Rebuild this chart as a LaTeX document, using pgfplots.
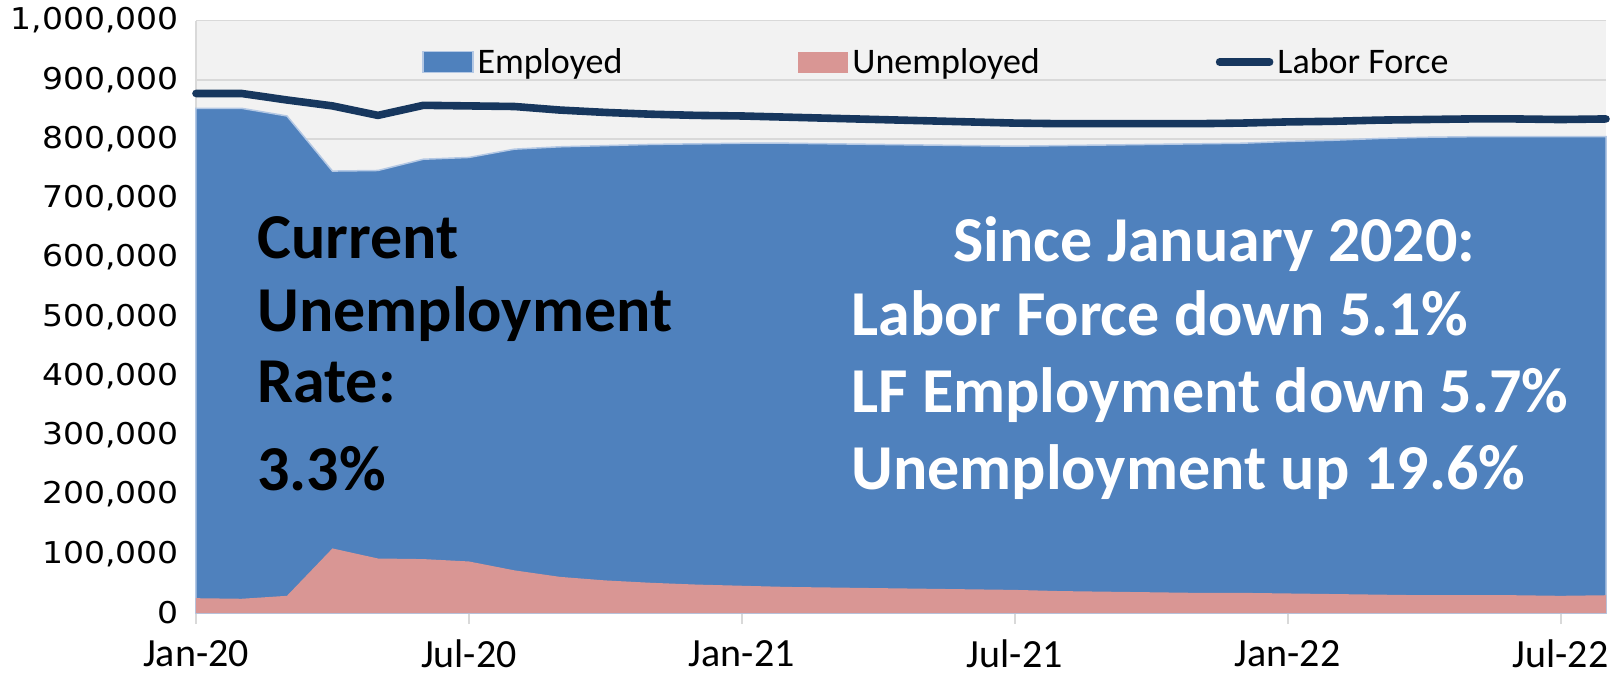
\documentclass[border=0pt]{standalone}
\usepackage{pgfplots}
\pgfplotsset{compat=1.18}
\usepackage{pgfplotstable}
\usepackage{graphicx}
\usepackage{fontspec}
\setmainfont{Carlito}
\newfontfamily\yfont{DejaVu Sans}

\definecolor{empblue}{HTML}{4F81BD}
\definecolor{empedge}{HTML}{B4C8E4}
\definecolor{unpink}{HTML}{D99694}
\definecolor{lfnavy}{HTML}{17375E}
\definecolor{plotbg}{HTML}{F2F2F2}
\definecolor{gridgray}{HTML}{D9D9D9}

\pgfplotsset{
  patchleg/.style={legend image code/.code={\fill[##1] (0pt,-5.25pt) rectangle (25pt,5.25pt);}},
  lineleg/.style={legend image code/.code={\draw[##1] (0pt,0pt) -- (25pt,0pt);}},
}

% month index (0 = Jan-20), employed, unemployed, labor force
\pgfplotstableread{
m  E      U      LF
0  852000 25000  877000
1  852000 24000  877000
2  839000 29000  866000
3  746000 109000 856000
4  747000 92000  840000
5  766000 91000  857000
6  769000 87000  856000
7  783000 72000  855000
8  787000 61000  849000
9  789000 55000  845000
10 791000 51000  842000
11 792000 48000  840000
12 793000 46000  839000
13 793000 44000  837000
14 792000 43000  835000
15 791000 42000  833000
16 790000 41000  831000
17 789000 40000  829000
18 788000 39000  827000
19 789000 37000  826000
20 790000 36000  826000
21 791000 35000  826000
22 792000 34000  826000
23 793000 34000  827000
24 796000 33000  829000
25 798000 32000  830000
26 801000 31000  832000
27 803000 30000  833000
28 804000 30000  834000
29 804000 30000  834000
30 804000 29000  833000
31 804000 30000  834000
}\labor

\begin{document}
\begin{tikzpicture}
\useasboundingbox (-98pt,-31.5pt) rectangle (708pt,306.5pt);
\begin{axis}[
  scale only axis, width=705pt, height=296.2pt,
  xmin=0, xmax=31, ymin=0, ymax=1000000,
  clip=false,
  axis lines=left,
  axis line style={-, draw=gridgray, line width=1pt},
  axis background/.style={fill=plotbg},
  ytick distance=100000,
  ymajorgrids, grid style={draw=gridgray, line width=0.75pt},
  xtick={0,6,12,18,24,30},
  xticklabels={Jan-20,Jul-20,Jan-21,Jul-21,Jan-22,Jul-22},
  tick align=outside, major tick length=5.5pt,
  xtick style={draw=gridgray, line width=1pt},
  ytick style={draw=none},
  scaled y ticks=false,
  /pgf/number format/.cd, fixed, precision=0, 1000 sep={,}, assume math mode=true,
  /pgfplots/.cd,
  yticklabel={\scalebox{1.1}[1]{\pgfmathprintnumber{\tick}}},
  yticklabel style={font=\yfont\fontsize{15}{18}\selectfont, inner sep=1pt, xshift=-2pt},
  xticklabel style={font=\fontsize{20}{23}\selectfont, yshift=-4.5pt},
  legend style={at={(0.16,0.93)}, anchor=west, draw=none, fill=none,
    inner sep=0pt, font=\fontsize{18}{20}\selectfont},
  legend columns=3,
  legend cell align=left,
  /tikz/every even column/.append style={column sep=86pt},
]
\addplot[fill=empblue, draw=empedge, line width=0.75pt, patchleg]
  table[x=m, y=E] {\labor} \closedcycle;
\addlegendentry{Employed}
\addplot[fill=unpink, draw=none, patchleg]
  table[x=m, y=U] {\labor} \closedcycle;
\addlegendentry{Unemployed}
\addplot[draw=lfnavy, line width=3.8pt, line cap=round, line join=round, lineleg]
  table[x=m, y=LF] {\labor};
\addlegendentry{Labor Force}

\begin{scope}[every node/.style={inner sep=0pt, font=\bfseries\fontsize{32}{38}\selectfont}]
\node[anchor=base west] at (axis cs:1.34,597600) {Current};
\node[anchor=base west] at (axis cs:1.34,476000) {Unemployment};
\node[anchor=base west] at (axis cs:1.34,356000) {Rate:};
\node[anchor=base west] at (axis cs:1.34,206000) {3.3\%};
\node[anchor=base, text=white] at (axis cs:22.39,594000) {Since January 2020:};
\node[anchor=base west, text=white] at (axis cs:14.4,467600) {Labor Force down 5.1\%};
\node[anchor=base west, text=white] at (axis cs:14.4,339000) {LF Employment down 5.7\%};
\node[anchor=base west, text=white] at (axis cs:14.4,209000) {Unemployment up 19.6\%};
\end{scope}
\end{axis}
\end{tikzpicture}
\end{document}
